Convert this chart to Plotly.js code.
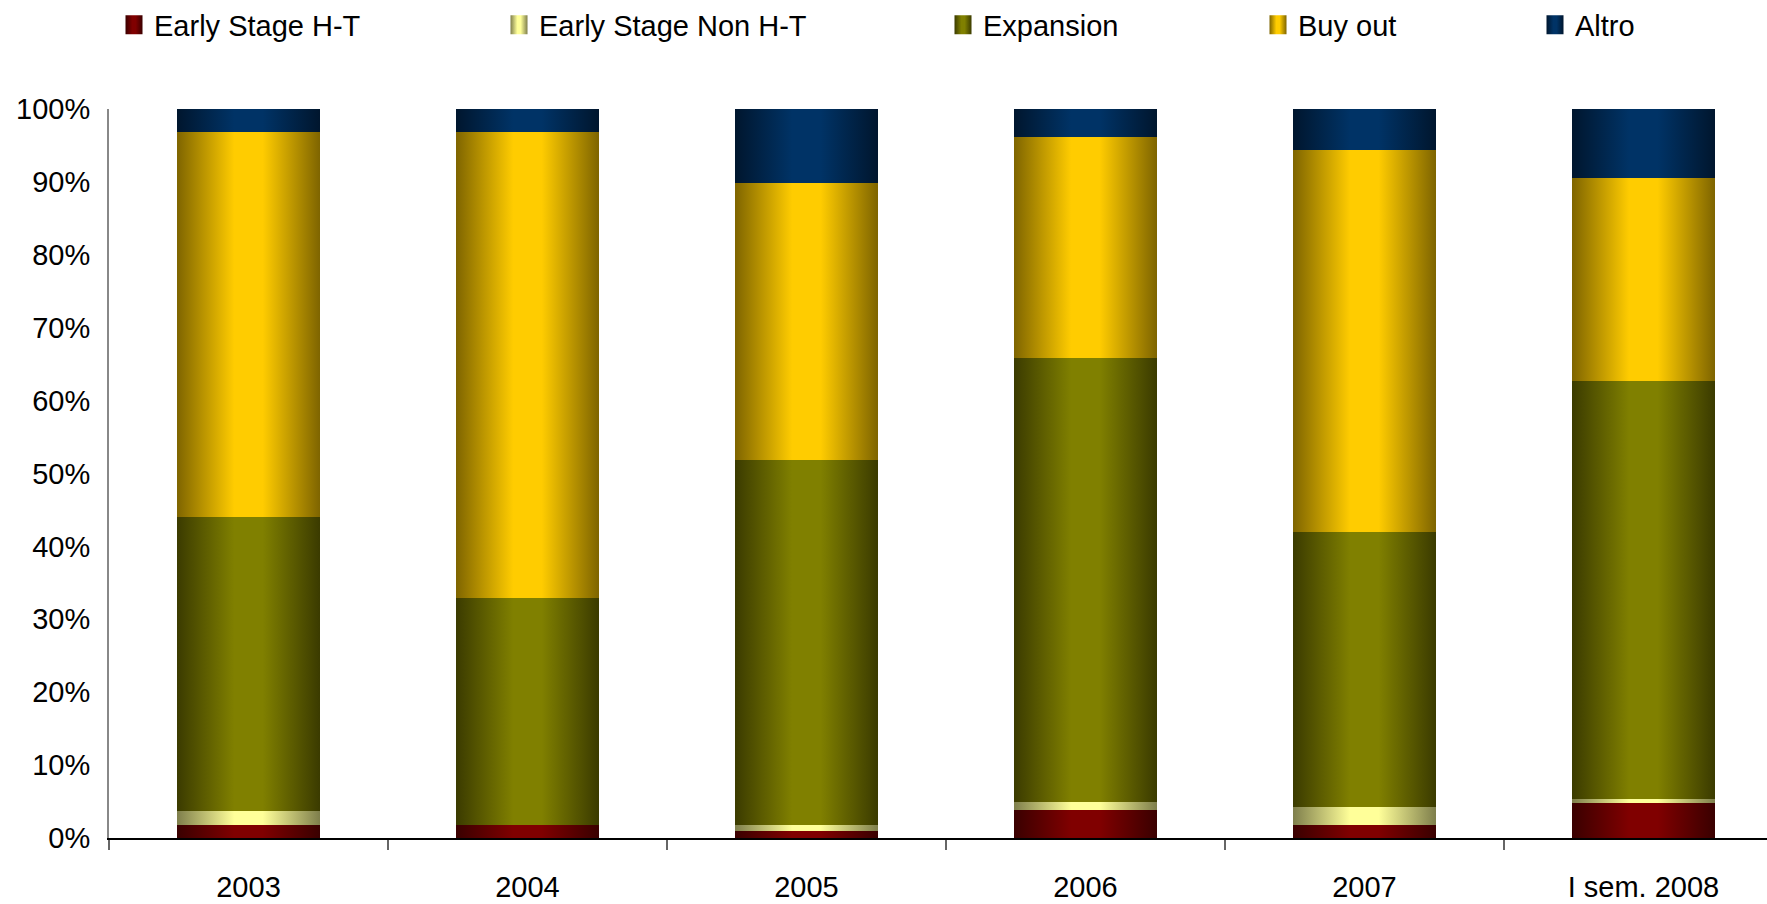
<!DOCTYPE html>
<html>
<head>
<meta charset="utf-8">
<script src="https://cdn.plot.ly/plotly-3.0.1.min.js"></script>
<style>
  html, body { margin: 0; padding: 0; background: #ffffff; }
  #chart { width: 1767px; height: 904px; }
</style>
</head>
<body>
<div id="chart"></div>
<script>
// ---- data (percent of total) ----
var categories = ['2003', '2004', '2005', '2006', '2007', 'I sem. 2008'];
var seriesNames = ['Early Stage H-T', 'Early Stage Non H-T', 'Expansion', 'Buy out', 'Altro'];
var earlyHT    = [1.8, 1.8, 1.0, 3.8, 1.8, 4.8];
var earlyNonHT = [1.9, 0.0, 0.8, 1.1, 2.5, 0.6];
var expansion  = [40.3, 31.1, 50.1, 60.9, 37.7, 57.3];
var buyOut     = [52.9, 64.0, 38.0, 30.3, 52.4, 27.8];
var altro      = [3.1, 3.1, 10.1, 3.9, 5.6, 9.5];
var yTickVals  = [0, 10, 20, 30, 40, 50, 60, 70, 80, 90, 100];

// ---- styling ----
var baseColors = ['#800000', '#ffff99', '#808000', '#ffcc00', '#003366'];
var darkColors = ['#3a0000', '#7f7f4c', '#3b3b00', '#7f6500', '#00162e'];
var legendTextLeft = [154, 539, 983, 1298, 1575]; // px, left edge of legend text
var FONT = '"Liberation Sans", Arial, sans-serif';
var FS = 29;
var SWATCH = 'M8.5,9.5H-8.5V-9.5H8.5Z';

var values = [earlyHT, earlyNonHT, expansion, buyOut, altro];
var legendIds = ['legend', 'legend2', 'legend3', 'legend4', 'legend5'];

var traces = values.map(function (v, i) {
  return {
    type: 'bar',
    name: seriesNames[i],
    x: categories,
    y: v,
    width: 0.51,
    marker: { color: baseColors[i], line: { width: 0 } },
    legend: legendIds[i],
    showlegend: true,
    hoverinfo: 'skip'
  };
});

var W = 1767, H = 904;
var layout = {
  width: W, height: H,
  paper_bgcolor: '#ffffff', plot_bgcolor: '#ffffff',
  barmode: 'stack',
  margin: { l: 109, r: 0, t: 109, b: 66, pad: 0, autoexpand: false },
  font: { family: FONT, size: FS, color: '#000000' },
  xaxis: {
    type: 'category',
    range: [-0.5, 5.443],
    showgrid: false, zeroline: false,
    showline: true, linecolor: '#000000', linewidth: 1.5,
    ticks: 'outside', tickson: 'boundaries', ticklen: 10, tickwidth: 1.3, tickcolor: '#666666',
    ticklabelstandoff: 23,
    tickfont: { family: FONT, size: FS, color: '#000000' },
    fixedrange: true
  },
  yaxis: {
    range: [0, 100],
    tickvals: yTickVals,
    ticktext: yTickVals.map(function (t) { return t + '%'; }),
    showgrid: false, zeroline: false,
    showline: true, linecolor: '#888888', linewidth: 2,
    ticks: '',
    ticklabelstandoff: 11,
    tickfont: { family: FONT, size: FS, color: '#000000' },
    fixedrange: true
  },
  showlegend: true
};

legendIds.forEach(function (id, i) {
  layout[id] = {
    orientation: 'h',
    xref: 'container', yref: 'container',
    x: (legendTextLeft[i] - 40) / W,
    y: 1 - 25 / H,
    xanchor: 'left', yanchor: 'middle',
    bgcolor: 'rgba(0,0,0,0)', borderwidth: 0,
    font: { family: FONT, size: FS, color: '#000000' }
  };
});

function ensureGradients(gd) {
  var svgNS = 'http://www.w3.org/2000/svg';
  var defs = gd.querySelector('.main-svg defs');
  if (!defs || defs.querySelector('#bargrad0')) return;
  baseColors.forEach(function (c, i) {
    var g = document.createElementNS(svgNS, 'linearGradient');
    g.setAttribute('id', 'bargrad' + i);
    g.setAttribute('x1', '0'); g.setAttribute('y1', '0');
    g.setAttribute('x2', '1'); g.setAttribute('y2', '0');
    [[0, darkColors[i]], [0.4, c], [0.6, c], [1, darkColors[i]]].forEach(function (s) {
      var st = document.createElementNS(svgNS, 'stop');
      st.setAttribute('offset', s[0]);
      st.setAttribute('stop-color', s[1]);
      g.appendChild(st);
    });
    defs.appendChild(g);
  });
}

function setFill(p, idx) {
  var want = 'url(#bargrad' + idx + ')';
  var cur = p.style.fill;
  if (cur !== want && cur !== 'url("#bargrad' + idx + '")') p.style.fill = want;
}

function legendIndexOf(tg) {
  for (var i = legendIds.length - 1; i >= 0; i--) {
    var g = tg.closest('g.' + legendIds[i]);
    if (g && g.getAttribute('class').split(/\s+/).indexOf(legendIds[i]) >= 0) return i;
  }
  var t = tg.querySelector('text');
  if (t) return seriesNames.indexOf(t.textContent.trim());
  return -1;
}

function applyGradients(gd) {
  ensureGradients(gd);
  gd.querySelectorAll('.barlayer .trace').forEach(function (tg, k) {
    var idx = k;
    try { if (tg.__data__[0].trace.index !== undefined) idx = tg.__data__[0].trace.index; } catch (e) {}
    tg.querySelectorAll('path').forEach(function (p) { setFill(p, idx); });
  });
  gd.querySelectorAll('g.traces').forEach(function (tg) {
    var idx = legendIndexOf(tg);
    if (idx < 0) return;
    tg.querySelectorAll('.legendpoints path, path').forEach(function (p) {
      if (p.getAttribute('d') !== SWATCH) p.setAttribute('d', SWATCH);
      setFill(p, idx);
      if (p.style.stroke !== 'none') p.style.stroke = 'none';
    });
  });
}

var gdEl = document.getElementById('chart');
var busy = false;
var observer = new MutationObserver(function () {
  if (busy) return;
  busy = true;
  try { applyGradients(gdEl); } finally { busy = false; }
});
observer.observe(gdEl, { childList: true, subtree: true, attributes: true });

Plotly.newPlot(gdEl, traces, layout, { staticPlot: true, displayModeBar: false })
  .then(function (gd) { applyGradients(gd); });
</script>
</body>
</html>
